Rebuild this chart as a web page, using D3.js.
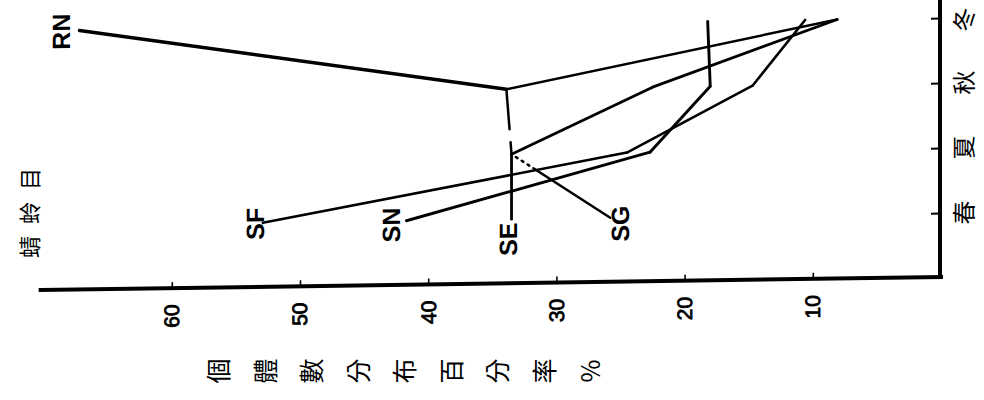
<!DOCTYPE html>
<html>
<head>
<meta charset="utf-8">
<script src="https://cdn.jsdelivr.net/npm/d3@7/dist/d3.min.js"></script>
<style>
  html, body { margin: 0; padding: 0; background: #fff; }
  svg { display: block; }
</style>
</head>
<body>
<svg id="chart" width="984" height="400"></svg>
<script>
// ---- data ----
const seasons = ["春", "夏", "秋", "冬"];
const percentTicks = [10, 20, 30, 40, 50, 60];
const seriesNames = ["SF", "SN", "SE", "SG", "RN"];
const valuesSF = [52.9, 24.5, 14.7, 10.6];
const valuesSN = [41.7, 22.7, 18.0, 18.2];
const valuesSE = [33.5, 33.5, 22.5, 8.1];
const valuesSG = [25.8, 33.5, 33.9, 8.1];
const valuesRN = [null, null, 33.9, 67.2];
const titleText = "蜻蛉目";
const axisTitleText = "個體數分布百分率%";

const seriesValues = { SF: valuesSF, SN: valuesSN, SE: valuesSE, SG: valuesSG, RN: valuesRN };

// ---- layout ----
const W = 984, H = 400;
const svg = d3.select("#chart");
const root = svg.append("g")
  .attr("transform", "translate(940,0) skewY(-0.83) translate(-940,0)");

const x = d3.scaleLinear().domain([0, 70]).range([941, 43.6]);
const y = d3.scalePoint().domain(seasons).range([213, 18]);
const axisY = 277;

// bottom (percentage) axis
root.append("line")
  .attr("x1", x(70) - 3).attr("x2", x(0))
  .attr("y1", axisY).attr("y2", axisY)
  .attr("stroke", "#000").attr("stroke-width", 4).attr("stroke-linecap", "square");

const xAxis = d3.axisTop(x).tickValues(percentTicks).tickSize(6).tickFormat("");
const gx = root.append("g").attr("transform", `translate(0,${axisY})`).call(xAxis);
gx.select(".domain").remove();
gx.selectAll(".tick line").attr("stroke", "#000").attr("stroke-width", 1.6);

root.selectAll("text.pct")
  .data(percentTicks)
  .join("text")
  .attr("class", "pct")
  .attr("transform", d => `translate(${x(d)},${axisY + 28}) rotate(-90)`)
  .attr("text-anchor", "middle")
  .attr("dominant-baseline", "central")
  .attr("font-family", "'Liberation Sans', Arial, sans-serif")
  .attr("font-size", 21)
  .attr("fill", "#000")
  .attr("stroke", "#000").attr("stroke-width", 0.8)
  .text(d => d);

// right (season) axis
root.append("line")
  .attr("x1", x(0) - 1).attr("x2", x(0) - 1)
  .attr("y1", -5).attr("y2", axisY + 2)
  .attr("stroke", "#000").attr("stroke-width", 4);

const yAxis = d3.axisLeft(y).tickSize(9).tickFormat("");
const gy = root.append("g").attr("transform", `translate(${x(0) - 1},0)`).call(yAxis);
gy.select(".domain").remove();
gy.selectAll(".tick line").attr("stroke", "#000").attr("stroke-width", 2);

root.selectAll("text.season")
  .data(seasons)
  .join("text")
  .attr("class", "season")
  .attr("transform", d => `translate(963,${Math.max(y(d), 20)}) rotate(-90)`)
  .attr("text-anchor", "middle")
  .attr("dominant-baseline", "central")
  .attr("font-family", "'Noto Sans CJK TC', 'Noto Sans CJK SC', sans-serif")
  .attr("font-size", 24)
  .attr("fill", "#000")
  .text(d => d);

// ---- lines ----
const line = d3.line()
  .defined(d => d.v != null)
  .x(d => x(d.v))
  .y(d => y(d.s));

const lineWidth = { SF: 2.6, SN: 2.9, SE: 2.8, SG: 2.5, RN: 3.4 };
// segment dash patterns (segment i joins season i and i+1)
const segmentDash = { SG: { 0: "92,5,2,5,2,5,2,100", 1: "12,13,200" } };

seriesNames.forEach(name => {
  const pts = seasons.map((s, i) => ({ s, v: seriesValues[name][i] }));
  for (let i = 0; i < pts.length - 1; i++) {
    const seg = [pts[i], pts[i + 1]];
    if (seg.some(p => p.v == null)) continue;
    const dash = segmentDash[name] && segmentDash[name][i];
    root.append("path")
      .attr("d", line(seg))
      .attr("fill", "none")
      .attr("stroke", "#000")
      .attr("stroke-width", lineWidth[name])
      .attr("stroke-linecap", "round")
      .attr("stroke-dasharray", dash || null);
  }
});

// ---- series labels ----
const labelFont = "'Liberation Sans', Arial, sans-serif";
const labelAnchor = {
  SF: { i: 0, dx: -8, dy: 1 },
  SN: { i: 0, dx: -15, dy: 4 },
  SE: { i: 0, dx: -4, dy: 20 },
  SG: { i: 0, dx: 10, dy: 6 },
  RN: { i: 3, dx: -18, dy: 1 }
};
seriesNames.forEach(name => {
  const a = labelAnchor[name];
  const v = seriesValues[name][a.i];
  root.append("text")
    .attr("transform", `translate(${x(v) + a.dx},${y(seasons[a.i]) + a.dy}) rotate(-90)`)
    .attr("text-anchor", "middle")
    .attr("dominant-baseline", "central")
    .attr("font-family", labelFont)
    .attr("font-weight", "bold")
    .attr("font-size", 25)
    .attr("fill", "#000")
    .text(name);
});

// ---- titles ----
const titleChars = Array.from(titleText);
svg.selectAll("text.title")
  .data(titleChars)
  .join("text")
  .attr("class", "title")
  .attr("transform", (d, i) => `translate(28,${247 - i * 34}) rotate(-90)`)
  .attr("text-anchor", "middle")
  .attr("dominant-baseline", "central")
  .attr("font-family", "'Noto Sans CJK TC', 'Noto Sans CJK SC', sans-serif")
  .attr("font-size", 22)
  .attr("fill", "#000")
  .text(d => d);

const axisChars = Array.from(axisTitleText);
svg.selectAll("text.axtitle")
  .data(axisChars)
  .join("text")
  .attr("class", "axtitle")
  .attr("transform", (d, i) => `translate(${217 + i * 46.5},371) rotate(-90)`)
  .attr("text-anchor", "middle")
  .attr("dominant-baseline", "central")
  .attr("font-family", "'Noto Sans CJK TC', 'Noto Sans CJK SC', sans-serif")
  .attr("font-size", 25)
  .attr("fill", "#000")
  .text(d => d);
</script>
</body>
</html>
